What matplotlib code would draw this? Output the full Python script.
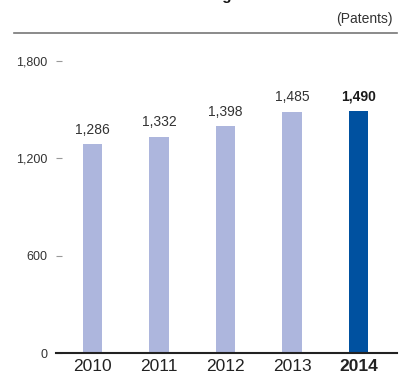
import matplotlib
matplotlib.use('Agg')
import matplotlib.pyplot as plt
import numpy as np

# Data
years = ['2010', '2011', '2012', '2013', '2014']
patents = [1286, 1332, 1398, 1485, 1490]
yticks = [0, 600, 1200, 1800]

light = '#adb6dd'
dark = '#0051a0'

plt.rcParams['font.family'] = ['Liberation Sans', 'DejaVu Sans']

fig = plt.figure(figsize=(3.99, 3.80), dpi=100)
ax = fig.add_axes([56 / 399, 27 / 380, 341 / 399, 292 / 380])

x = np.arange(len(years))
colors = [light] * (len(years) - 1) + [dark]
bars = ax.bar(x, patents, width=0.286, color=colors, zorder=2)

ax.set_xlim(-0.549, 4.579)
ax.set_ylim(0, 1800)

# value labels
for i, (b, v) in enumerate(zip(bars, patents)):
    last = i == len(patents) - 1
    ax.annotate(f'{v:,}', (b.get_x() + b.get_width() / 2, v),
                xytext=(0, 5.5), textcoords='offset points',
                ha='center', va='bottom', fontsize=10,
                fontweight='bold' if last else 'normal',
                color='#1a1a1a' if last else '#333333', clip_on=False)

ax.set_xticks(x)
ax.set_xticklabels(years, fontsize=12.5, color='#222222')
ax.get_xticklabels()[-1].set_fontweight('bold')
ax.tick_params(axis='x', length=0, pad=4)

ax.set_yticks(yticks)
ax.set_yticklabels([f'{t:,}' for t in yticks], fontsize=9, color='#333333')
ax.tick_params(axis='y', direction='in', length=4.5, width=0.8,
               color='#999999', pad=6)

for s in ['top', 'right', 'left']:
    ax.spines[s].set_visible(False)
ax.spines['bottom'].set_color('#222222')
ax.spines['bottom'].set_linewidth(1.5)
ax.spines['bottom'].set_zorder(3)

# header
fig.text(152 / 399, 1.0, 'Patent Registrations', ha='left', va='baseline',
         fontsize=11, fontweight='bold', color='#111111')
fig.text(393 / 399, 1 - 19 / 380, '(Patents)', ha='right', va='center',
         fontsize=10, color='#333333')
fig.add_artist(plt.Line2D([14 / 399, 397 / 399], [1 - 32.5 / 380] * 2,
                          color='#777777', linewidth=1.2))

plt.savefig('out.png', dpi=100)
